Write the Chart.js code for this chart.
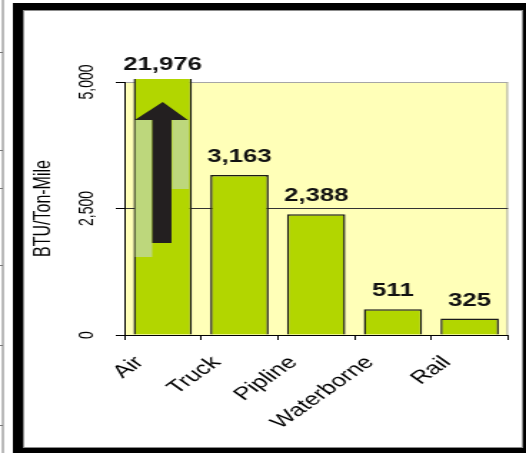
<!DOCTYPE html>
<html>
<head>
<meta charset="utf-8">
<script src="https://cdn.jsdelivr.net/npm/chart.js@4.4.1/dist/chart.umd.min.js"></script>
<style>
  html, body { margin: 0; padding: 0; background: #fff; overflow: hidden; }
  canvas { display: block; }
</style>
</head>
<body>
<!-- the source picture is a slide stretched sideways, so the canvas is drawn narrow and widened by css -->
<canvas id="chart" width="368" height="453" style="width:526px;height:453px"></canvas>
<script>
const modes = ['Air', 'Truck', 'Pipline', 'Waterborne', 'Rail'];
const btuPerTonMile = [21976, 3163, 2388, 511, 325];
const yMax = 5000;
const yStep = 2500;

Chart.defaults.font.family = '"Liberation Sans", Arial, sans-serif';
Chart.defaults.color = '#000';

// white slide, black frame and the pale yellow plot area
const framePlugin = {
  id: 'frame',
  beforeDraw(chart) {
    const { ctx, chartArea: a, width, height } = chart;
    ctx.save();
    ctx.fillStyle = '#fff';
    ctx.fillRect(0, 0, width, height);

    // edge of the neighbouring table at the far left
    ctx.strokeStyle = '#777';
    ctx.lineWidth = 1;
    ctx.beginPath();
    ctx.moveTo(2, 0);
    ctx.lineTo(2, height);
    [52, 150, 188, 265, 345, 425].forEach(y => {
      ctx.moveTo(0, y + 0.5);
      ctx.lineTo(2, y + 0.5);
    });
    ctx.stroke();

    ctx.fillStyle = '#000';
    ctx.fillRect(9, 3, width - 9, height - 3);
    ctx.fillStyle = '#fff';
    ctx.fillRect(16, 10, 350, 438);
    ctx.strokeStyle = '#8c8c8c';
    ctx.strokeRect(16.5, 10.5, 349, 437);

    ctx.fillStyle = '#ffffb8';
    ctx.fillRect(a.left, a.top, a.right - a.left, a.bottom - a.top);
    ctx.strokeStyle = '#a6a6a6';
    ctx.beginPath();
    ctx.moveTo(a.left, a.top + 0.5);
    ctx.lineTo(a.right - 0.5, a.top + 0.5);
    ctx.lineTo(a.right - 0.5, a.bottom);
    ctx.stroke();
    ctx.restore();
  }
};

// "off the scale" arrow inside the Air bar
const arrowPlugin = {
  id: 'airArrow',
  afterDatasetsDraw(chart) {
    const bar = chart.getDatasetMeta(0).data[0];
    if (!bar) return;
    const { ctx, chartArea: a } = chart;
    const left = bar.x - bar.width / 2;
    const X = f => left + f * bar.width;
    const Y = d => a.top + d;
    ctx.save();
    ctx.fillStyle = '#bdd77c';
    ctx.fillRect(X(0.03), Y(38), X(0.32) - X(0.03), 137);
    ctx.fillRect(X(0.66), Y(38), X(0.95) - X(0.66), 69);
    ctx.fillStyle = '#231f20';
    ctx.beginPath();
    ctx.moveTo(X(0.5), Y(20));
    ctx.lineTo(X(0.93), Y(38));
    ctx.lineTo(X(0.65), Y(38));
    ctx.lineTo(X(0.65), Y(161));
    ctx.lineTo(X(0.32), Y(161));
    ctx.lineTo(X(0.32), Y(38));
    ctx.lineTo(X(0.02), Y(38));
    ctx.closePath();
    ctx.fill();
    ctx.restore();
  }
};

// value written above each bar
const valueLabels = {
  id: 'valueLabels',
  afterDatasetsDraw(chart) {
    const { ctx, chartArea: a } = chart;
    const meta = chart.getDatasetMeta(0);
    ctx.save();
    ctx.font = 'bold 18px "Liberation Sans", Arial, sans-serif';
    ctx.fillStyle = '#111';
    ctx.textAlign = 'center';
    ctx.textBaseline = 'alphabetic';
    meta.data.forEach((bar, i) => {
      const clipped = bar.y < a.top - 3;
      const top = clipped ? a.top - 3 : bar.y;
      ctx.fillText(btuPerTonMile[i].toLocaleString('en-US'), bar.x, top - (clipped ? 9 : 13));
    });
    ctx.restore();
  }
};

new Chart(document.getElementById('chart'), {
  type: 'bar',
  data: {
    labels: modes,
    datasets: [{
      data: btuPerTonMile,
      backgroundColor: '#b2d600',
      borderColor: '#1a1a1a',
      borderWidth: 1.5,
      barPercentage: 0.76,
      categoryPercentage: 1,
      clip: { left: 0, top: 3, right: 0, bottom: 0 }
    }]
  },
  options: {
    responsive: false,
    devicePixelRatio: 1,
    animation: false,
    locale: 'en-US',
    layout: { padding: { left: 13, top: 82, right: 12.6, bottom: 0 } },
    plugins: {
      legend: { display: false },
      tooltip: { enabled: false }
    },
    scales: {
      x: {
        grid: { offset: true, drawOnChartArea: false, tickLength: 5, tickColor: '#000' },
        border: { color: '#000' },
        ticks: {
          autoSkip: false,
          minRotation: 45,
          maxRotation: 45,
          labelOffset: -16,
          padding: 12,
          color: '#000',
          font: { size: 18 }
        },
        afterFit: s => { s.height = 118; }
      },
      y: {
        min: 0,
        max: yMax,
        ticks: {
          stepSize: yStep,
          minRotation: 90,
          maxRotation: 90,
          crossAlign: 'center',
          padding: 2,
          color: '#000',
          font: { size: 14 }
        },
        grid: {
          color: c => c.tick && c.tick.value === yStep ? '#333'
            : (c.tick && c.tick.value === yMax ? '#a6a6a6' : 'rgba(0,0,0,0)'),
          tickLength: 6,
          tickColor: '#000'
        },
        border: { color: '#000' },
        title: {
          display: true,
          text: 'BTU/Ton-Mile',
          color: '#000',
          font: { size: 16 },
          padding: { top: 8, bottom: 0 }
        },
        afterFit: s => { s.width = 74; }
      }
    }
  },
  plugins: [framePlugin, arrowPlugin, valueLabels]
});
</script>
</body>
</html>
